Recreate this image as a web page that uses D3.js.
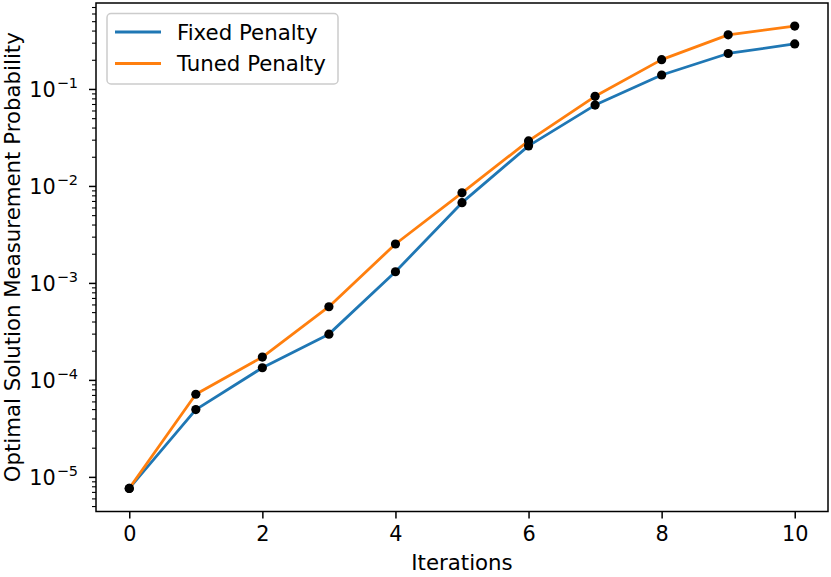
<!DOCTYPE html>
<html>
<head>
<meta charset="utf-8">
<script src="https://cdn.jsdelivr.net/npm/d3@7"></script>
<style>
  body { margin: 0; background: #fff; }
  svg { font-family: "DejaVu Sans", sans-serif; }
</style>
</head>
<body>
<svg></svg>
<script>
// DATA
const iterations = [0, 1, 2, 3, 4, 5, 6, 7, 8, 9, 10];
const fixedPenalty = [7.7e-6, 5.0e-5, 1.35e-4, 3.0e-4, 1.32e-3, 6.8e-3, 0.0262, 0.069, 0.141, 0.235, 0.295];
const tunedPenalty = [7.7e-6, 7.2e-5, 1.74e-4, 5.75e-4, 2.55e-3, 8.6e-3, 0.0295, 0.085, 0.203, 0.366, 0.45];
const seriesNames = ["Fixed Penalty", "Tuned Penalty"];
const yTickExps = [-5, -4, -3, -2, -1];
const xTicks = [0, 2, 4, 6, 8, 10];

// LAYOUT
const WIDTH = 831, HEIGHT = 577;
const PLOT = {left: 96, right: 828, top: 3, bottom: 511.5};
const COLORS = ["#1f77b4", "#ff7f0e"];
const FONT = 21.3;
const TICK_FONT = 20.8;

const svg = d3.select("svg").attr("width", WIDTH).attr("height", HEIGHT);

const x = d3.scaleLinear().domain([-0.5, 10.5]).range([PLOT.left, PLOT.right]);

// log domain with 5% margins like matplotlib
const allVals = fixedPenalty.concat(tunedPenalty);
const lmin = Math.log10(d3.min(allVals)), lmax = Math.log10(d3.max(allVals));
const pad = (lmax - lmin) * 0.05;
const y = d3.scaleLog()
    .domain([Math.pow(10, lmin - pad), Math.pow(10, lmax + pad)])
    .range([PLOT.bottom, PLOT.top]);

const chart = svg.append("g");

// lines
const line = d3.line().x((d, i) => x(iterations[i])).y(d => y(d));
[fixedPenalty, tunedPenalty].forEach((s, k) => {
    chart.append("path")
        .datum(s)
        .attr("d", line)
        .attr("fill", "none")
        .attr("stroke", COLORS[k])
        .attr("stroke-width", 2.8)
        .attr("stroke-linejoin", "round")
        .attr("stroke-linecap", "square");
});

// markers
[fixedPenalty, tunedPenalty].forEach(s => {
    chart.selectAll(null)
        .data(s)
        .enter()
        .append("circle")
        .attr("cx", (d, i) => x(iterations[i]))
        .attr("cy", d => y(d))
        .attr("r", 4.6)
        .attr("fill", "black");
});

// frame
svg.append("rect")
    .attr("x", PLOT.left).attr("y", PLOT.top)
    .attr("width", PLOT.right - PLOT.left).attr("height", PLOT.bottom - PLOT.top)
    .attr("fill", "none").attr("stroke", "black").attr("stroke-width", 1.5);

// x axis
const xAxis = svg.append("g")
    .attr("transform", `translate(0,${PLOT.bottom})`)
    .call(d3.axisBottom(x).tickValues(xTicks).tickSize(7).tickPadding(8).tickFormat(d3.format("d")));
xAxis.select(".domain").remove();
xAxis.selectAll("line").attr("stroke-width", 1.5);
xAxis.selectAll("text").attr("font-size", TICK_FONT).attr("font-family", "DejaVu Sans").attr("fill", "black");

// y axis minor ticks
const [d0, d1] = y.domain();
const minor = [];
for (let e = Math.floor(Math.log10(d0)); e <= Math.ceil(Math.log10(d1)); e++) {
    for (let m = 2; m <= 9; m++) {
        const v = m * Math.pow(10, e);
        if (v >= d0 && v <= d1) minor.push(v);
    }
}
svg.append("g").selectAll("line")
    .data(minor).enter().append("line")
    .attr("x1", PLOT.left - 4).attr("x2", PLOT.left)
    .attr("y1", d => y(d)).attr("y2", d => y(d))
    .attr("stroke", "black").attr("stroke-width", 1.1);

// y axis major ticks + labels
const yMajor = svg.append("g");
yMajor.selectAll("line")
    .data(yTickExps).enter().append("line")
    .attr("x1", PLOT.left - 7).attr("x2", PLOT.left)
    .attr("y1", d => y(Math.pow(10, d))).attr("y2", d => y(Math.pow(10, d)))
    .attr("stroke", "black").attr("stroke-width", 1.5);

const ylab = yMajor.selectAll("text")
    .data(yTickExps).enter().append("text")
    .attr("x", PLOT.left - 18)
    .attr("y", d => y(Math.pow(10, d)) + 7.5)
    .attr("text-anchor", "end")
    .attr("font-size", TICK_FONT)
    .attr("fill", "black");
ylab.append("tspan").text("10");
ylab.append("tspan").attr("dx", 1).attr("dy", -8.5).attr("font-size", 14.5).text(d => "\u2212" + Math.abs(d));

// axis titles
svg.append("text")
    .attr("x", (PLOT.left + PLOT.right) / 2)
    .attr("y", 569.5)
    .attr("text-anchor", "middle")
    .attr("font-size", FONT)
    .text("Iterations");

svg.append("text")
    .attr("transform", `translate(20,${(PLOT.top + PLOT.bottom) / 2}) rotate(-90)`)
    .attr("text-anchor", "middle")
    .attr("font-size", FONT)
    .text("Optimal Solution Measurement Probability");

// legend
const legend = svg.append("g");
legend.append("rect")
    .attr("x", 107).attr("y", 13.5)
    .attr("width", 231).attr("height", 70.5)
    .attr("rx", 4)
    .attr("fill", "white").attr("fill-opacity", 0.8)
    .attr("stroke", "#cccccc").attr("stroke-width", 1.5);
seriesNames.forEach((name, k) => {
    const ly = 32 + k * 31.5;
    legend.append("line")
        .attr("x1", 115).attr("x2", 161)
        .attr("y1", ly).attr("y2", ly)
        .attr("stroke", COLORS[k]).attr("stroke-width", 2.8);
    legend.append("text")
        .attr("x", 177).attr("y", ly + 7.5)
        .attr("font-size", FONT)
        .text(name);
});
</script>
</body>
</html>
